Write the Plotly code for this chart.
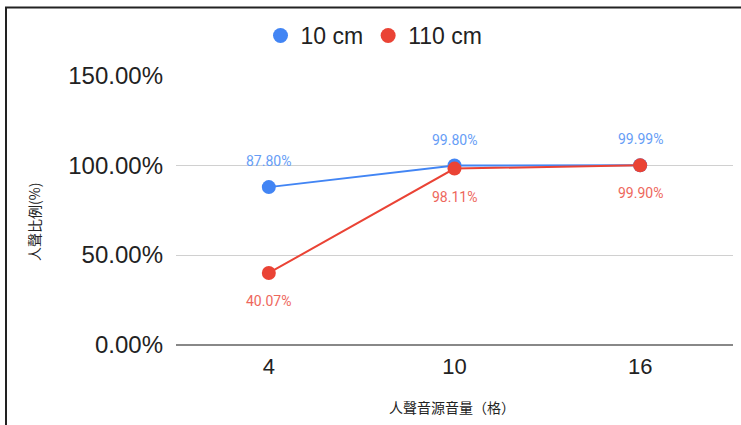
import plotly.graph_objects as go

categories = ["4", "10", "16"]
series_names = ["10 cm", "110 cm"]
vals_10cm = [0.8780, 0.9980, 0.9999]
vals_110cm = [0.4007, 0.9811, 0.9990]
y_tick_vals = [0, 0.5, 1.0, 1.5]
x_title = "人聲音源音量（格）"
y_title = "人聲比例(%)"

blue = "#4285F4"
red = "#EA4335"
blue_lbl = "#669df6"
red_lbl = "#ee675c"

W, H = 741, 425
L, R, T, B = 176, 8, 75, 80
pw, ph = W - L - R, H - T - B

def px_x(p):
    return (p - L) / pw

def px_y(p):
    return (H - B - p) / ph

fig = go.Figure()
for name, vals, col in [(series_names[0], vals_10cm, blue), (series_names[1], vals_110cm, red)]:
    fig.add_trace(go.Scatter(
        x=categories, y=vals, mode="lines+markers", name=name,
        line=dict(color=col, width=2), marker=dict(color=col, size=14),
        showlegend=False, hoverinfo="skip"))
for name, col in [(series_names[0], blue), (series_names[1], red)]:
    fig.add_trace(go.Scatter(
        x=[None], y=[None], mode="markers", name=name,
        marker=dict(color=col, size=15)))

annotations = []
for i, v in enumerate(vals_10cm):
    annotations.append(dict(x=i, y=v, xref="x", yref="y", text=f"{v*100:.2f}%",
                            showarrow=False, yshift=26,
                            font=dict(family="Roboto, Arial", size=14, color=blue_lbl)))
for i, v in enumerate(vals_110cm):
    annotations.append(dict(x=i, y=v, xref="x", yref="y", text=f"{v*100:.2f}%",
                            showarrow=False, yshift=-28,
                            font=dict(family="Roboto, Arial", size=14, color=red_lbl)))
annotations.append(dict(x=px_x(34), y=px_y(222), xref="paper", yref="paper",
                        xanchor="center", yanchor="middle",
                        text=y_title, textangle=-90, showarrow=False,
                        font=dict(family="Noto Sans CJK TC, Arial", size=14, color="#222")))
annotations.append(dict(x=px_x(452), y=px_y(407), xref="paper", yref="paper",
                        xanchor="center", yanchor="middle",
                        text=x_title, showarrow=False,
                        font=dict(family="Noto Sans CJK TC, Arial", size=14, color="#222")))

shapes = [
    dict(type="line", xref="paper", yref="paper", x0=px_x(5), x1=px_x(745),
         y0=px_y(7.5), y1=px_y(7.5), line=dict(color="#222", width=2)),
    dict(type="line", xref="paper", yref="paper", x0=px_x(6), x1=px_x(6),
         y0=px_y(7), y1=px_y(430), line=dict(color="#222", width=2)),
]

fig.update_layout(
    width=W, height=H,
    margin=dict(l=L, r=R, t=T, b=B),
    paper_bgcolor="white", plot_bgcolor="white",
    font=dict(family="Liberation Sans, Arial", color="#222"),
    legend=dict(orientation="h", x=px_x(374), xanchor="center",
                y=px_y(35.5), yanchor="middle",
                font=dict(size=23, color="#222"), itemwidth=30,
                bgcolor="rgba(0,0,0,0)"),
    annotations=annotations,
    shapes=shapes,
)
fig.update_xaxes(type="category", range=[-0.5, 2.5], showgrid=False,
                 showline=False, zeroline=False, ticks="",
                 tickfont=dict(size=22, color="#222"), ticklabelstandoff=6)
fig.update_yaxes(range=[0, 1.5015], tickvals=y_tick_vals, tickformat=".2%",
                 showgrid=True, gridcolor="#d0d0d0", gridwidth=1,
                 zeroline=True, zerolinecolor="#888", zerolinewidth=2,
                 showline=False, ticks="",
                 tickfont=dict(size=24, color="#222"), ticklabelstandoff=12)

fig.write_html("out.html")
